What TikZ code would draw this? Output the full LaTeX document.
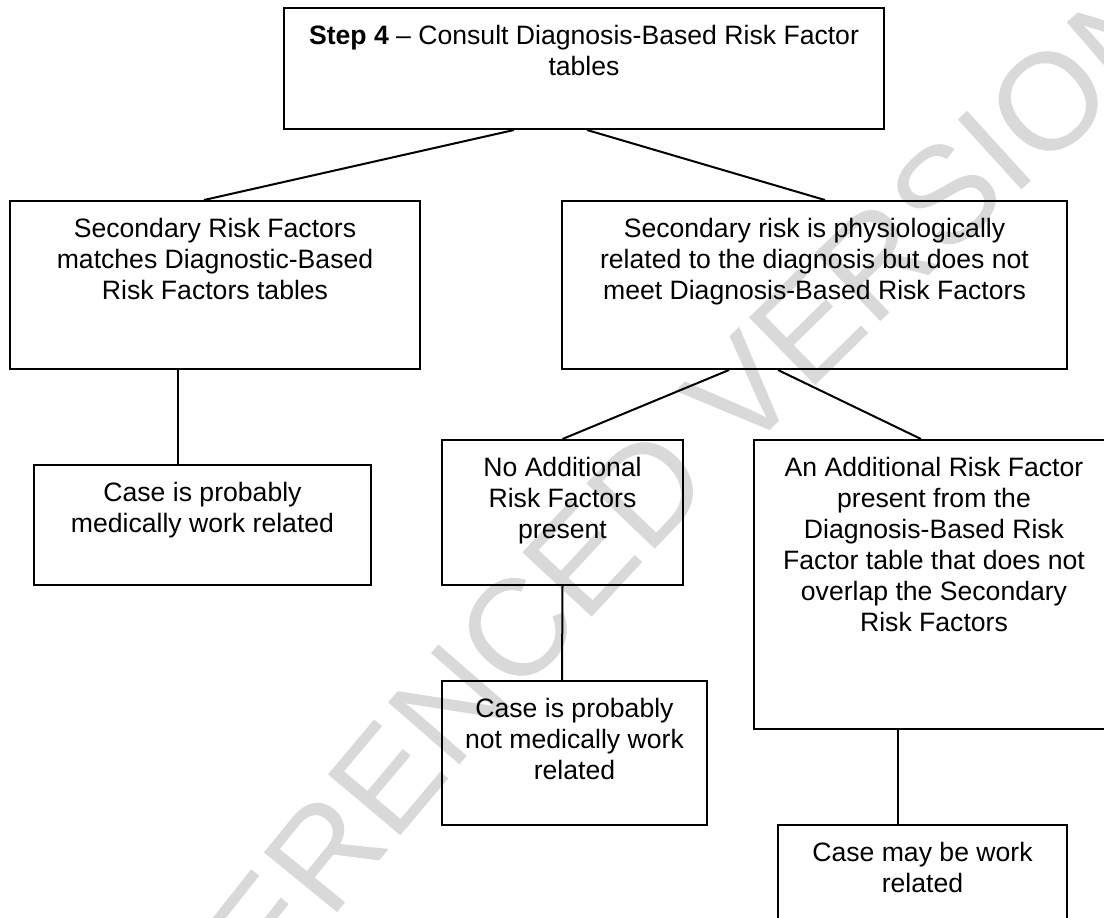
\documentclass[tikz,border=0pt]{standalone}
\usepackage{fontspec}
\setmainfont{Liberation Sans}
\usetikzlibrary{positioning,decorations.text}
\tikzset{>=stealth}
\tikzset{
  box/.style={draw, line width=1pt, inner sep=0pt},
  txt/.style={align=center, inner sep=0pt, font=\fontsize{13.3pt}{15.5pt}\selectfont},
}

\begin{document}
\begin{tikzpicture}[x=0.5pt,y=-0.5pt,line width=1pt]
    \useasboundingbox (0,0) rectangle (1104,917);
    \clip (0,0) rectangle (1104,917);
    % watermark
    \path[decorate,decoration={text along path,text color=black!15,
        text={|\fontsize{68.8pt}{70pt}\selectfont|REFERENCED VERSION}}]
        (111,1215) .. controls (432,756) and (821,350) .. (1250,-10);
    % boxes
    \node[box, minimum width=300pt, minimum height=60.5pt] (step) at (584,68.5) {};
    \node[box, minimum width=205pt, minimum height=84pt] (match) at (215,285) {};
    \node[box, minimum width=252.5pt, minimum height=84pt] (physio) at (814.5,285) {};
    \node[box, minimum width=168.5pt, minimum height=60pt] (likely) at (202.5,525) {};
    \node[box, minimum width=120.5pt, minimum height=72.5pt] (noadd) at (562.5,512.5) {};
    \node[box, minimum width=180pt, minimum height=144.5pt] (addrisk) at (934,584.5) {};
    \node[box, minimum width=132.5pt, minimum height=72pt] (notwork) at (574.5,753) {};
    \node[box, minimum width=144.5pt, minimum height=72.5pt] (maywork) at (922.5,897.5) {};
    % texts
    \node[txt, below=8.5pt of step.north] (stepT) {\textbf{Step 4} -- Consult Diagnosis-Based Risk Factor\\tables};
    \node[txt, below=8.5pt of match.north] (matchT) {Secondary Risk Factors\\matches Diagnostic-Based\\Risk Factors tables};
    \node[txt, below=8.5pt of physio.north] (physioT) {Secondary risk is physiologically\\related to the diagnosis but does not\\meet Diagnosis-Based Risk Factors};
    \node[txt, below=8.5pt of likely.north] (likelyT) {Case is probably\\medically work related};
    \node[txt, below=8.5pt of noadd.north] (noaddT) {No Additional\\Risk Factors\\present};
    \node[txt, below=8.5pt of addrisk.north] (addriskT) {An Additional Risk Factor\\present from the\\Diagnosis-Based Risk\\Factor table that does not\\overlap the Secondary\\Risk Factors};
    \node[txt, below=8.5pt of notwork.north] (notworkT) {Case is probably\\not medically work\\related};
    \node[txt, below=8.5pt of maywork.north] (mayworkT) {Case may be work\\related};
    % connectors
    \draw ([xshift=-35pt]step.south) -- ([xshift=-5.5pt]match.north);
    \draw ([xshift=1.5pt]step.south) -- ([xshift=5.25pt]physio.north);
    \draw ([xshift=-18.5pt]match.south) -- ([xshift=-12.25pt]likely.north);
    \draw ([xshift=-42.75pt]physio.south) -- (noadd.north);
    \draw ([xshift=-18.25pt]physio.south) -- ([xshift=-6.5pt]addrisk.north);
    \draw (noadd.south) -- ([xshift=-6.25pt]notwork.north);
    \draw ([xshift=-18pt]addrisk.south) -- ([xshift=-12.25pt]maywork.north);
\end{tikzpicture}
\end{document}
